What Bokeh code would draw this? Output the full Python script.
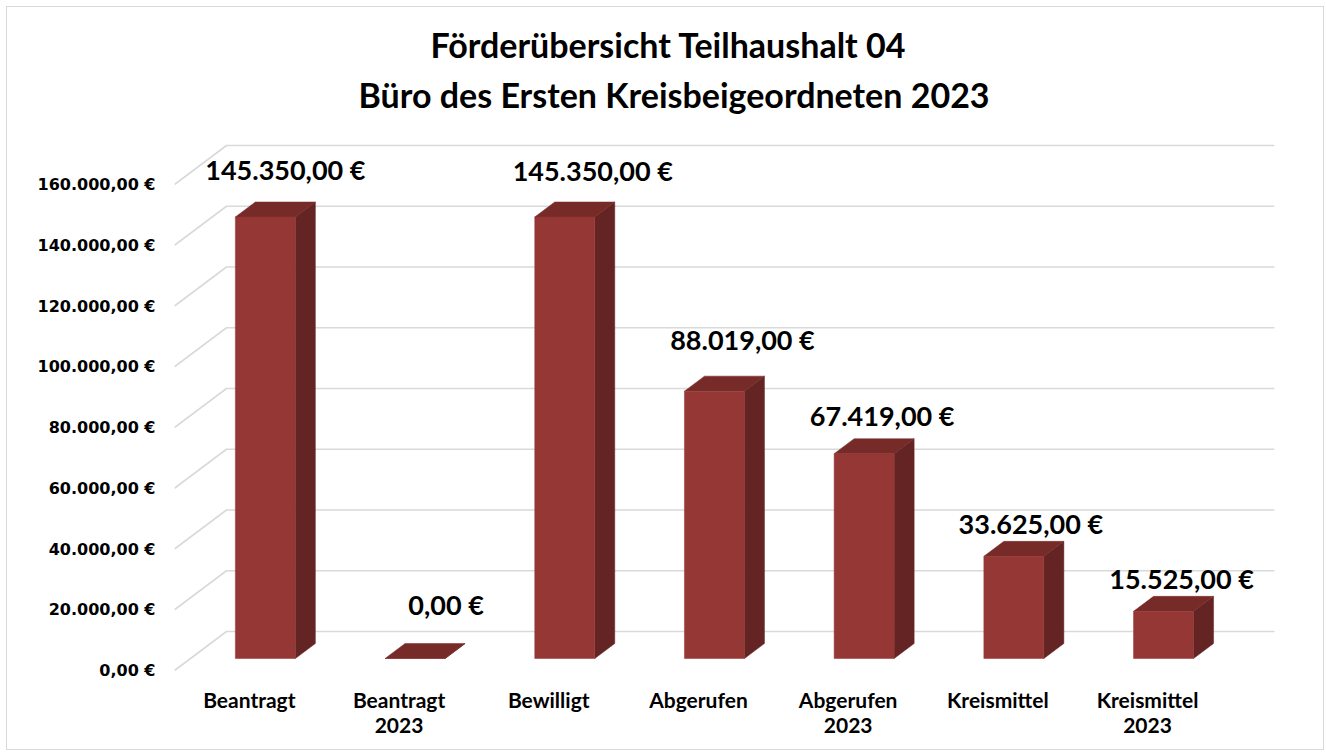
from bokeh.plotting import figure
from bokeh.models import Range1d, FixedTicker, Title, ColumnDataSource
from bokeh.core.properties import value
from bokeh.embed import file_html
from bokeh.resources import INLINE

# ---------------- data ----------------
categories = ["Beantragt", "Beantragt\n2023", "Bewilligt", "Abgerufen",
              "Abgerufen\n2023", "Kreismittel", "Kreismittel\n2023"]
amounts = [145350.00, 0.00, 145350.00, 88019.00, 67419.00, 33625.00, 15525.00]
y_ticks = [0, 20000, 40000, 60000, 80000, 100000, 120000, 140000, 160000]
title_lines = ["Förderübersicht Teilhaushalt 04", "Büro des Ersten Kreisbeigeordneten 2023"]


def eur(v):
    s = f"{v:,.2f}"
    return s.replace(",", "X").replace(".", ",").replace("X", ".") + " €"


# ---------------- layout / style constants ----------------
PAGE_OFF = 7                         # 6px margin + 1px border
W, H = 1318, 744
FRAME_L, FRAME_R, FRAME_T, FRAME_B = 174, 1290, 130, 676   # page px
MB_L = FRAME_L - PAGE_OFF
MB_R = W - (FRAME_R - PAGE_OFF)
MB_T = FRAME_T - PAGE_OFF
MB_B = H - (FRAME_B - PAGE_OFF)
FRAME_W = FRAME_R - FRAME_L
FRAME_H = FRAME_B - FRAME_T
PX_CAT = 149.7                      # pixels per category
PX_VAL = 60.75 / 20000.0            # pixels per euro
ZERO_FROM_BOTTOM = 6                # px from frame bottom to front floor zero
X0 = -0.5
x_end = X0 + FRAME_W / PX_CAT
y_start = -ZERO_FROM_BOTTOM / PX_VAL
y_end = y_start + FRAME_H / PX_VAL
ux = 1.0 / PX_CAT
uy = 1.0 / PX_VAL

FLOOR_DX, FLOOR_DY = 52, 39         # depth of the floor (px)
BAR_FRONT, BAR_BACK = 12 / 39, 27 / 39
BAR_HALF = 30                       # px half-width of bar front face

C_FRONT = "#953735"
C_TOP = "#762b29"
C_SIDE = "#632423"
GRID = "#d9d9d9"

# value-label nudges (px), relative to category position on the front plane
LABEL_DX = [36, 47, 44, 44, 34, 33, 34]
LABEL_DY = [59, 66, 58, 64, 50, 45, 45]

p = figure(width=W, height=H, output_backend="svg", toolbar_location=None,
           x_range=Range1d(X0, x_end), y_range=Range1d(y_start, y_end),
           min_border_left=MB_L, min_border_right=MB_R,
           min_border_top=MB_T, min_border_bottom=MB_B,
           background_fill_color="white", border_fill_color="white",
           outline_line_color=None, title=None)
p.styles = {"border": "1px solid #d9d9d9", "margin-left": "6px", "margin-top": "6px"}
p.grid.visible = False

# titles: first added sits closest to the plot (offset measured from frame left)
t2 = Title(text=title_lines[1], align="left", text_font="Lato",
           text_font_style="bold", text_font_size="34px", text_color="black",
           standoff=31, offset=184)
t1 = Title(text=title_lines[0], align="left", text_font="Lato",
           text_font_style="bold", text_font_size="34px", text_color="black",
           standoff=-17, offset=256)
p.add_layout(t2, "above")
p.add_layout(t1, "above")

# ---------------- gridlines (back wall + floor diagonals) ----------------
n = len(categories)
gx, gy = [], []
for v in y_ticks:
    xs = [X0, X0 + FLOOR_DX * ux, n - 0.5 + FLOOR_DX * ux]
    ys = [v, v + FLOOR_DY * uy, v + FLOOR_DY * uy]
    gx.append(xs)
    gy.append(ys)
p.multi_line(gx, gy, line_color=GRID, line_width=1.6)

# ---------------- 3D bars ----------------
fl, fr, fb, ft = [], [], [], []
top_x, top_y, side_x, side_y = [], [], [], []
ddx = (BAR_BACK - BAR_FRONT) * FLOOR_DX * ux
ddy = (BAR_BACK - BAR_FRONT) * FLOOR_DY * uy
for i, a in enumerate(amounts):
    cx = i + BAR_FRONT * FLOOR_DX * ux
    base = BAR_FRONT * FLOOR_DY * uy
    l, r = cx - BAR_HALF * ux, cx + BAR_HALF * ux
    b, tp = base, base + a
    fl.append(l); fr.append(r); fb.append(b); ft.append(tp)
    top_x.append([l, r, r + ddx, l + ddx])
    top_y.append([tp, tp, tp + ddy, tp + ddy])
    side_x.append([r, r + ddx, r + ddx, r])
    side_y.append([b, b + ddy, tp + ddy, tp])

p.patches(side_x, side_y, fill_color=C_SIDE, line_color=C_SIDE, line_width=0.5)
p.patches(top_x, top_y, fill_color=C_TOP, line_color=C_TOP, line_width=0.5)
p.quad(left=fl, right=fr, bottom=fb, top=ft, fill_color=C_FRONT,
       line_color=C_FRONT, line_width=0.5)

# ---------------- value labels ----------------
lab = ColumnDataSource(dict(
    x=[i + dx * ux for i, dx in enumerate(LABEL_DX)],
    y=[a + dy * uy for a, dy in zip(amounts, LABEL_DY)],
    t=[eur(a) for a in amounts]))
p.text(x="x", y="y", text="t", source=lab, text_align="center",
       text_baseline="middle", text_font=value("Lato"), text_font_style="bold",
       text_font_size="27px", text_color="black")

# ---------------- axes ----------------
p.yaxis.ticker = FixedTicker(ticks=y_ticks)
p.yaxis.major_label_overrides = {v: eur(v) for v in y_ticks}
p.yaxis.axis_line_color = None
p.yaxis.major_tick_line_color = None
p.yaxis.minor_tick_line_color = None
p.yaxis.major_tick_in = 0
p.yaxis.major_tick_out = 0
p.yaxis.major_label_standoff = 19
p.yaxis.major_label_text_font = "DejaVu Sans"
p.yaxis.major_label_text_font_style = "bold"
p.yaxis.major_label_text_font_size = "16px"
p.yaxis.major_label_text_color = "black"

p.xaxis.ticker = FixedTicker(ticks=list(range(n)))
p.xaxis.major_label_overrides = {i: c for i, c in enumerate(categories)}
p.xaxis.axis_line_color = None
p.xaxis.major_tick_line_color = None
p.xaxis.minor_tick_line_color = None
p.xaxis.major_tick_in = 0
p.xaxis.major_tick_out = 0
p.xaxis.major_label_standoff = 10
p.xaxis.major_label_text_font = "Lato"
p.xaxis.major_label_text_font_style = "bold"
p.xaxis.major_label_text_font_size = "21px"
p.xaxis.major_label_text_color = "black"
p.xaxis.major_label_text_line_height = 1.0

open("out.html", "w").write(file_html(p, INLINE))
